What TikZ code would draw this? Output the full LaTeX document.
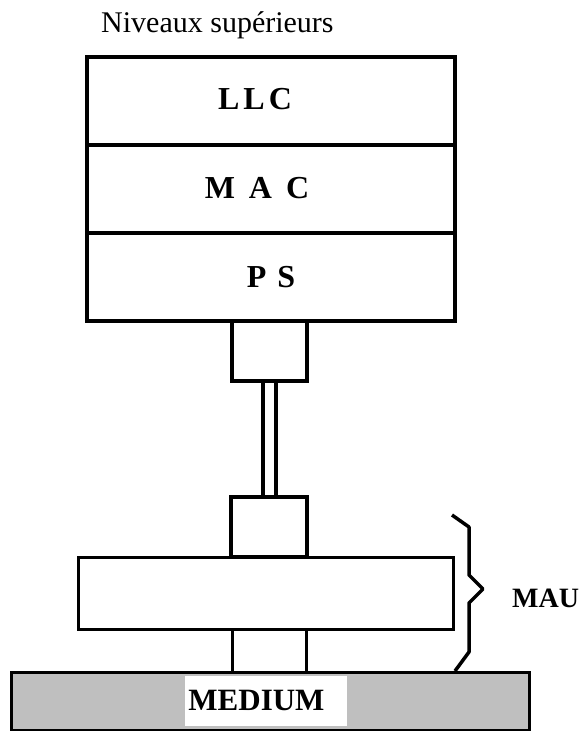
\documentclass[tikz,border=0pt]{standalone}
\usepackage{fontspec}
\setmainfont{Liberation Serif}
\begin{document}
\begin{tikzpicture}[x=1pt,y=-1pt,
  thick box/.style={draw=black,line width=4pt,inner sep=0pt},
  conn box/.style={draw=black,line width=3.5pt,inner sep=0pt},
  mid box/.style={draw=black,line width=3pt,inner sep=0pt},
  lbl/.style={font=\fontsize{32}{34}\selectfont\bfseries,inner sep=0pt},
  title/.style={font=\fontsize{30}{32}\selectfont,inner sep=0pt}]
\useasboundingbox (0,0) rectangle (587,731);
% main stack
\node[thick box,minimum width=368pt,minimum height=88pt] (llc) at (271,101) {};
\node[thick box,minimum width=368pt,minimum height=88pt] (mac) at (271,189) {};
\node[thick box,minimum width=368pt,minimum height=88pt] (ps) at (271,277) {};
\node[lbl,anchor=base] (llct) at (255,109) {L\hspace{4pt}L\hspace{4pt}C};
\node[lbl,anchor=base] (mact) at (257,198) {M\hspace{14pt}A\hspace{14pt}C};
\node[lbl,anchor=base] (pst) at (271,287) {P\hspace{11pt}S};
\node[title,anchor=base west] (title) at (101,32) {Niveaux supérieurs};
% connector boxes
\node[conn box,minimum width=75pt,minimum height=60pt] (up) at (269.5,351) {};
\node[conn box,minimum width=76pt,minimum height=60pt] (low) at (269,527) {};
\draw[line width=3.5pt] (up.south -| 263,0) -- (low.north -| 263,0);
\draw[line width=3.5pt] (up.south -| 276,0) -- (low.north -| 276,0);
% MAU box
\node[mid box,minimum width=375pt,minimum height=72pt,fill=white] (mau) at (265.5,593) {};
% medium
\node[draw=black,line width=2.5pt,fill=black!25,minimum width=518pt,minimum height=58pt,inner sep=0pt,anchor=north west] (medium) at (10,671) {};
\fill[white] (185,676) rectangle (347,726);
\node[font=\fontsize{31}{33}\selectfont\bfseries,inner sep=0pt,anchor=base] (medlbl) at (256.5,710) {MEDIUM};
% stubs
\draw[line width=3pt] (mau.south -| 232,0) -- (medium.north -| 232,0);
\draw[line width=3pt] (mau.south -| 306,0) -- (medium.north -| 306,0);
% brace
\draw[line width=3.5pt,line join=round] (452,515) -- (469,527) -- (469,575) -- (483,589) -- (469,603) -- (469,652) -- (455,671);
\node[font=\fontsize{28}{30}\selectfont\bfseries,inner sep=0pt,anchor=base west] (maulbl) at (512,607) {MAU};
\end{tikzpicture}
\end{document}
